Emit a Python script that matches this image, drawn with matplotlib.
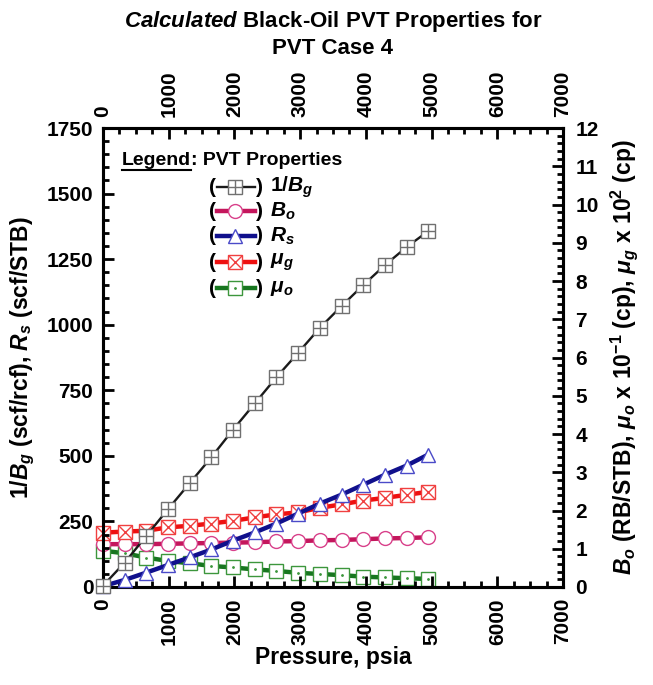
import numpy as np
import matplotlib
matplotlib.use("Agg")
import matplotlib.pyplot as plt
from matplotlib.lines import Line2D
from matplotlib.ticker import MultipleLocator

plt.rcParams["font.family"] = ["Liberation Sans", "DejaVu Sans"]
plt.rcParams["font.weight"] = "bold"
plt.rcParams["mathtext.fontset"] = "custom"
plt.rcParams["mathtext.rm"] = "Liberation Sans:bold"
plt.rcParams["mathtext.it"] = "Liberation Sans:italic:bold"
plt.rcParams["mathtext.bf"] = "Liberation Sans:bold"

# data
pressure = [0, 330, 660, 990, 1320, 1650, 1980, 2310, 2640, 2970,
            3300, 3630, 3960, 4290, 4620, 4950]
inv_bg = [5, 93, 195, 297, 396, 495, 600, 700, 800, 893,
          988, 1071, 1151, 1227, 1296, 1357]
rs = [3, 27, 55, 84, 113, 143, 177, 208, 242, 280,
      318, 352, 390, 428, 463, 505]
bo = [1.12, 1.12, 1.12, 1.13, 1.14, 1.15, 1.16, 1.17, 1.19, 1.20,
      1.22, 1.23, 1.25, 1.27, 1.28, 1.30]
mu_g = [1.42, 1.45, 1.47, 1.56, 1.60, 1.66, 1.73, 1.82, 1.90, 1.95,
        2.07, 2.16, 2.26, 2.33, 2.41, 2.49]
mu_o = [0.95, 0.88, 0.77, 0.68, 0.62, 0.55, 0.51, 0.46, 0.42, 0.37,
        0.34, 0.31, 0.27, 0.25, 0.23, 0.21]

# (label, line colour, marker edge colour, marker, inner marker, line width)
styles = {
    "inv_bg": ("1/$B_g$", "#1a1a1a", "#707070", "s", "+", 1.7),
    "bo": ("$B_o$", "#c4165c", "#d8408a", "o", None, 3.2),
    "rs": ("$R_s$", "#10108c", "#4a4ac8", "^", None, 3.2),
    "mu_g": ("$\\mu_g$", "#ee1010", "#f04040", "s", "x", 3.2),
    "mu_o": ("$\\mu_o$", "#17761f", "#3c963c", "s", ".", 3.2),
}
ms = 10
tick_fs = 15
label_fs = 16.5

fig = plt.figure(figsize=(6.53, 6.85), dpi=100)
ax = fig.add_axes([103 / 653, 1 - 587 / 685, 460 / 653, 459 / 685])
ax2 = ax.twinx()
ax.set_zorder(ax2.get_zorder() + 1)
ax.patch.set_visible(False)


def draw(axis, x, y, key):
    lab, lc, mc, mk, inner, lw = styles[key]
    axis.plot(x, y, color=lc, lw=lw, marker=mk, ms=ms, mfc="white",
              mec=mc, mew=1.0, zorder=3, clip_on=False)
    if inner is not None:
        isz = ms * 0.95 if inner != "." else 2
        axis.plot(x, y, ls="none", marker=inner, ms=isz, mec=mc, mfc=mc,
                  mew=1.0, zorder=4, clip_on=False)


draw(ax2, pressure, mu_o, "mu_o")
draw(ax2, pressure, bo, "bo")
draw(ax2, pressure, mu_g, "mu_g")
draw(ax, pressure, rs, "rs")
draw(ax, pressure, inv_bg, "inv_bg")

ax.set_xlim(0, 7000)
ax.set_ylim(0, 1750)
ax2.set_ylim(0, 12)

ax.xaxis.set_major_locator(MultipleLocator(1000))
ax.xaxis.set_minor_locator(MultipleLocator(250))
ax.yaxis.set_major_locator(MultipleLocator(250))
ax.yaxis.set_minor_locator(MultipleLocator(50))
ax2.yaxis.set_major_locator(MultipleLocator(1))
ax2.yaxis.set_minor_locator(MultipleLocator(0.2))

for a in (ax, ax2):
    for s in a.spines.values():
        s.set_linewidth(2.2)
    a.tick_params(which="both", direction="in", width=2, labelsize=tick_fs)
    a.tick_params(which="major", length=8)
    a.tick_params(which="minor", length=4.5)
ax.tick_params(axis="y", which="major", pad=7)
ax2.tick_params(axis="y", which="major", pad=9)
ax.tick_params(axis="x", which="both", top=True, labeltop=True,
               labelrotation=90)
ax.tick_params(axis="x", which="major", pad=8)
ax.set_xticks(range(0, 7001, 1000))

ax.set_xlabel("Pressure, psia", fontsize=label_fs, fontweight="bold")
ax.set_ylabel("1/$B_g$ (scf/rcf), $R_s$ (scf/STB)", fontsize=label_fs,
              fontweight="bold")
ax2.set_ylabel("$B_o$ (RB/STB), $\\mu_o$ x 10$^{-1}$ (cp), "
               "$\\mu_g$ x 10$^{2}$ (cp)", fontsize=label_fs,
               fontweight="bold")
ax.xaxis.set_label_coords(0.5, (587 - 646) / 459)
ax.yaxis.set_label_coords((37 - 103) / 460, 0.5)
ax2.yaxis.set_label_coords((608 - 103) / 460, 0.5)

fig.text(333 / 653, 1 - 22 / 685,
         "$Calculated$ Black-Oil PVT Properties for",
         ha="center", va="center", fontsize=16, fontweight="bold")
fig.text(333 / 653, 1 - 48 / 685, "PVT Case 4",
         ha="center", va="center", fontsize=16, fontweight="bold")

# hand-made legend
hdr = ax.text(0.041, 0.930, "Legend", transform=ax.transAxes, fontsize=14,
              fontweight="bold", va="center", ha="left")
hdr2 = ax.text(0.041, 0.930, ": PVT Properties", transform=ax.transAxes,
               fontsize=14, fontweight="bold", va="center", ha="left")
fig.canvas.draw()
rend = fig.canvas.get_renderer()
bb = hdr.get_window_extent(rend).transformed(ax.transAxes.inverted())
hdr2.set_x(bb.x1)
ax.add_line(Line2D([bb.x0, bb.x1], [bb.y0 - 0.004, bb.y0 - 0.004],
                   transform=ax.transAxes, color="black", lw=1.5))

rows = [0.871, 0.819, 0.765, 0.708, 0.651]
for key, yy in zip(["inv_bg", "bo", "rs", "mu_g", "mu_o"], rows):
    lab, lc, mc, mk, inner, lw = styles[key]
    ax.text(0.231, yy, "(", transform=ax.transAxes, fontsize=15,
            fontweight="bold", va="center", ha="left")
    ax.add_line(Line2D([0.247, 0.330], [yy, yy], transform=ax.transAxes,
                       color=lc, lw=lw))
    ax.add_line(Line2D([0.288], [yy], transform=ax.transAxes, marker=mk,
                       ms=ms, mfc="white", mec=mc, mew=1.0))
    if inner is not None:
        isz = ms * 0.95 if inner != "." else 2
        ax.add_line(Line2D([0.288], [yy], transform=ax.transAxes,
                           marker=inner, ms=isz, mec=mc, mfc=mc, mew=1.0))
    ax.text(0.333, yy, ")", transform=ax.transAxes, fontsize=15,
            fontweight="bold", va="center", ha="left")
    ax.text(0.362, yy, lab, transform=ax.transAxes, fontsize=15,
            fontweight="bold", va="center", ha="left")

fig.savefig("out.png", dpi=100)
